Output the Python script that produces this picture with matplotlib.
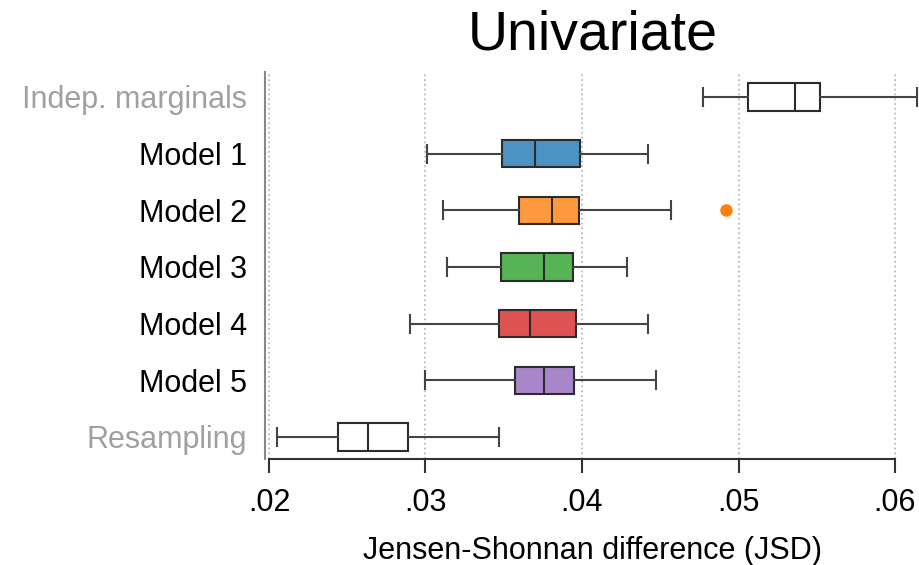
import matplotlib
matplotlib.use("Agg")
import matplotlib.pyplot as plt

plt.rcParams['font.family'] = ['Liberation Sans', 'DejaVu Sans']

categories = ["Indep. marginals", "Model 1", "Model 2", "Model 3", "Model 4", "Model 5", "Resampling"]
whislo = [0.0477, 0.0301, 0.0311, 0.0314, 0.0290, 0.0300, 0.0205]
q1     = [0.0506, 0.0349, 0.0360, 0.0348, 0.0347, 0.0357, 0.0244]
med    = [0.0536, 0.0370, 0.0381, 0.0376, 0.0367, 0.0376, 0.0263]
q3     = [0.0552, 0.0399, 0.0398, 0.0394, 0.0396, 0.0395, 0.0289]
whishi = [0.0614, 0.0442, 0.0457, 0.0429, 0.0442, 0.0447, 0.0347]
fliers = [[], [], [0.0492], [], [], [], []]
box_colors = ["#FFFFFF", "#4C92C3", "#FF993E", "#56B356", "#DE5253", "#A985CA", "#FFFFFF"]
flier_colors = ["#1f77b4", "#1f77b4", "#ff7f0e", "#2ca02c", "#d62728", "#9467bd", "#1f77b4"]
label_colors = ["#A0A0A0", "black", "black", "black", "black", "black", "#A0A0A0"]
xticks = [0.02, 0.03, 0.04, 0.05, 0.06]
xticklabels = [".02", ".03", ".04", ".05", ".06"]

W, H = 920, 565
fig = plt.figure(figsize=(W / 100, H / 100), dpi=100)
ax = fig.add_axes([265 / W, (H - 459) / H, (W - 265) / W, (459 - 72) / H])

stats = []
for i, c in enumerate(categories):
    stats.append(dict(label=c, whislo=whislo[i], q1=q1[i], med=med[i], q3=q3[i],
                      whishi=whishi[i], fliers=fliers[i]))

positions = list(range(len(categories)))
edge = "#2b2b2b"
res = ax.bxp(stats, positions=positions, vert=False, widths=0.48, capwidths=0.32,
             patch_artist=True, showfliers=True,
             boxprops=dict(edgecolor=edge, linewidth=1.5),
             medianprops=dict(color=edge, linewidth=1.5),
             whiskerprops=dict(color="#444444", linewidth=1.5),
             capprops=dict(color="#444444", linewidth=1.5),
             flierprops=dict(marker='o', markersize=9, markeredgewidth=0))
for patch, col in zip(res['boxes'], box_colors):
    patch.set_facecolor(col)
for fl, col in zip(res['fliers'], flier_colors):
    fl.set_markerfacecolor(col)
    fl.set_markeredgecolor(col)

ax.set_xlim(0.02 - 4 / 15650, 0.02 + (W - 269) / 15650)
ax.set_ylim(6.39, -0.44)
ax.set_xticks(xticks)
ax.set_xticklabels(xticklabels, fontsize=22)
ax.set_yticks(positions)
ax.set_yticklabels(categories, fontsize=22)
for t, col in zip(ax.get_yticklabels(), label_colors):
    t.set_color(col)
ax.tick_params(axis='y', length=0, pad=13)
ax.tick_params(axis='x', length=10, width=1.5, color="#333333", pad=11)

ax.grid(axis='x', linestyle=':', color='#BBBBBB', linewidth=1.3)
ax.set_axisbelow(True)
for s in ['top', 'right']:
    ax.spines[s].set_visible(False)
ax.spines['left'].set_color('#888888')
ax.spines['left'].set_linewidth(1.5)
ax.spines['bottom'].set_color('#333333')
ax.spines['bottom'].set_linewidth(1.5)
ax.spines['bottom'].set_bounds(0.02, 0.06)

ax.set_xlabel("Jensen-Shonnan difference (JSD)", fontsize=22, labelpad=13)
ax.set_title("Univariate", fontsize=40, pad=16)

fig.savefig("out.png", dpi=100)
